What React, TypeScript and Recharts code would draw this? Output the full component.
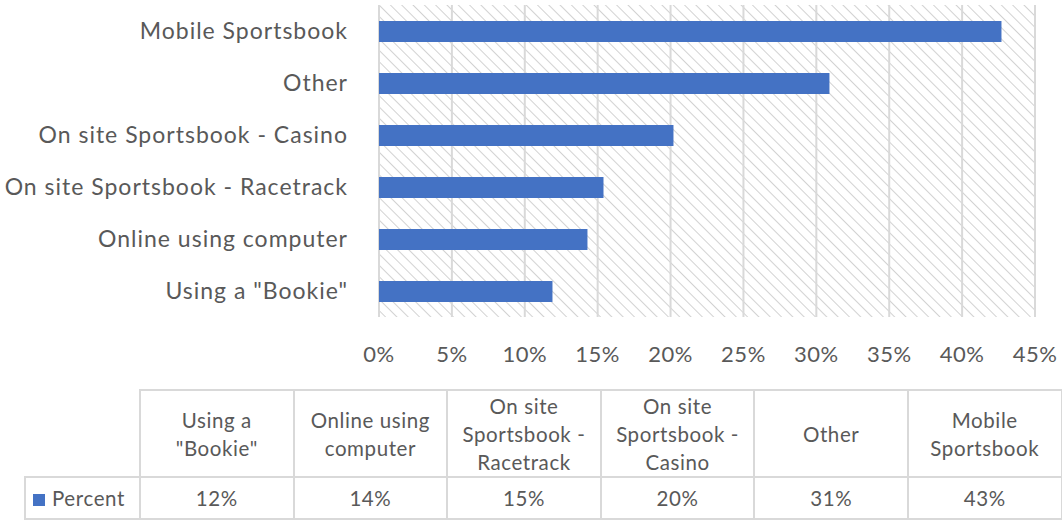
import { BarChart, Bar, XAxis, YAxis, CartesianGrid } from 'recharts'

// categories in data-table order (bottom bar first)
const categories = [
  'Using a "Bookie"',
  'Online using computer',
  'On site Sportsbook - Racetrack',
  'On site Sportsbook - Casino',
  'Other',
  'Mobile Sportsbook',
]
const tableHeaders = [
  ['Using a', '"Bookie"'],
  ['Online using', 'computer'],
  ['On site', 'Sportsbook -', 'Racetrack'],
  ['On site', 'Sportsbook -', 'Casino'],
  ['Other'],
  ['Mobile', 'Sportsbook'],
]
const percent = [11.9, 14.3, 15.4, 20.2, 30.9, 42.7]
const xTicks = [0, 5, 10, 15, 20, 25, 30, 35, 40, 45]

const FONT = 'Lato, "Open Sans", sans-serif'
const TEXT = '#595959'
const BLUE = '#4472C4'
const GRID = '#d9d9d9'

const data = categories.map((name, i) => ({ name, percent: percent[i] }))

const cell = {
  border: `2px solid ${GRID}`,
  textAlign: 'center' as const,
  padding: 0,
  color: TEXT,
  fontSize: 20.5,
  letterSpacing: 0.6,
  lineHeight: '28px',
}

export default function App() {
  return (
    <div style={{ position: 'absolute', top: 0, left: 0, width: 1062, height: 521, background: '#fff', fontFamily: FONT }}>
      <BarChart
        width={1062}
        height={375}
        data={data}
        layout="vertical"
        margin={{ top: 5, right: 27, bottom: 0, left: 0 }}
        barCategoryGap="30%"
      >
        <defs>
          <pattern id="hatch" width="8" height="8" patternUnits="userSpaceOnUse" patternTransform="rotate(-45)">
            <line x1="0" y1="0" x2="0" y2="8" stroke="#d2d2d2" strokeWidth={2} />
          </pattern>
        </defs>
        <CartesianGrid horizontal={false} stroke={GRID} strokeWidth={2} fill="url(#hatch)" fillOpacity={1} />
        <XAxis
          type="number"
          domain={[0, 45]}
          ticks={xTicks}
          tickFormatter={(v) => `${v}%`}
          axisLine={false}
          tickLine={false}
          tickSize={0}
          tickMargin={29}
          height={58}
          tick={{ fill: TEXT, fontSize: 22, fontFamily: FONT, letterSpacing: 0.5 }}
        />
        <YAxis
          type="category"
          dataKey="name"
          reversed
          width={379}
          axisLine={false}
          tickLine={false}
          tickSize={0}
          tickMargin={31}
          tick={{ fill: TEXT, fontSize: 23, fontFamily: FONT, letterSpacing: 1 }}
        />
        <Bar dataKey="percent" fill={BLUE} barSize={21} isAnimationActive={false} />
      </BarChart>
      <table
        style={{
          position: 'absolute',
          left: 24,
          top: 389,
          borderCollapse: 'collapse',
          tableLayout: 'fixed',
          width: 1037,
          fontFamily: FONT,
        }}
      >
        <colgroup>
          <col style={{ width: 115 }} />
          {tableHeaders.map((_, i) => (
            <col key={i} style={{ width: 153.6 }} />
          ))}
        </colgroup>
        <tbody>
          <tr style={{ height: 87 }}>
            <td style={{ border: 'none', borderRight: `2px solid ${GRID}`, borderBottom: `2px solid ${GRID}` }} />
            {tableHeaders.map((lines, i) => (
              <td key={i} style={cell}>
                {lines.map((l, j) => (
                  <div key={j}>{l}</div>
                ))}
              </td>
            ))}
          </tr>
          <tr style={{ height: 42 }}>
            <td style={{ ...cell, textAlign: 'left', paddingLeft: 7 }}>
              <span style={{ display: 'inline-block', width: 12, height: 12, background: BLUE, marginRight: 7 }} />
              Percent
            </td>
            {percent.map((v, i) => (
              <td key={i} style={cell}>{`${Math.round(v)}%`}</td>
            ))}
          </tr>
        </tbody>
      </table>
    </div>
  )
}
